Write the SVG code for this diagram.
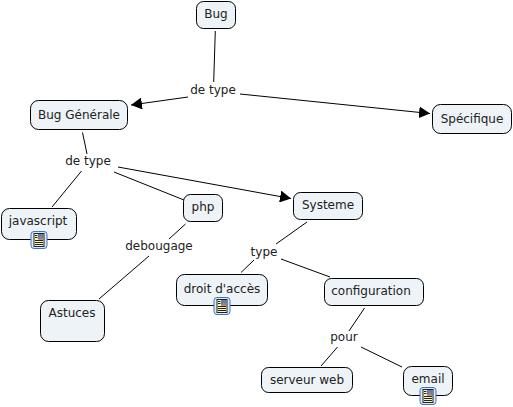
<svg xmlns="http://www.w3.org/2000/svg" width="513" height="407" viewBox="0 0 513 407">
<style>
.n{fill:#edf3f6;stroke:#000;stroke-width:1}
text{font-family:"DejaVu Sans",Verdana,sans-serif;font-size:12px;fill:#222;text-anchor:middle}
.c line{stroke:#000;stroke-width:1}
</style>
<defs>
<marker id="a" markerUnits="userSpaceOnUse" markerWidth="12" markerHeight="12" refX="11" refY="6" orient="auto"><path d="M0 0L11 6L0 12Z" fill="#000"/></marker>
<g id="ic">
<rect x="0.5" y="0.5" width="16" height="17" rx="3" fill="#dbe8f8" stroke="#3f73c4"/>
<rect x="3.500" y="2.500" width="10" height="13" fill="#fbf6c0" stroke="#222" stroke-width="1"/>
<rect x="7.500" y="3" width="5.500" height="5.500" fill="#5a7fa8"/>
<path d="M8 8.500l2.500-4 2.500 4z" fill="#b77"/>
<path d="M4.500 4.500H7M4.500 6.500H7M4.500 9.500H12.500M4.500 11.500H12.500M4.500 13.500H12.500" stroke="#222" stroke-width="1" fill="none"/>
</g>
</defs>
<g id="connectors" class="c">
<line x1="215.300" y1="31" x2="213.700" y2="82"/>
<line x1="188" y1="97" x2="131" y2="105" marker-end="url(#a)"/>
<line x1="240" y1="94" x2="430" y2="113.500" marker-end="url(#a)"/>
<line x1="82.500" y1="132.500" x2="87" y2="154"/>
<line x1="81.500" y1="171" x2="52" y2="207"/>
<line x1="114" y1="172" x2="184" y2="200"/>
<line x1="118" y1="167" x2="291" y2="198.500" marker-end="url(#a)"/>
<line x1="185.500" y1="224" x2="169" y2="239"/>
<line x1="149" y1="256" x2="99" y2="299"/>
<line x1="307" y1="222" x2="276" y2="244"/>
<line x1="254" y1="260" x2="241" y2="272.500"/>
<line x1="281" y1="259" x2="330" y2="277"/>
<line x1="364.500" y1="308" x2="349" y2="331"/>
<line x1="337.500" y1="347" x2="321" y2="366"/>
<line x1="361" y1="347" x2="402" y2="367"/>
</g>
<g id="labels">
<text x="213" y="94">de type</text>
<text x="88" y="165">de type</text>
<text x="159" y="250">debougage</text>
<text x="264" y="256">type</text>
<text x="344" y="341">pour</text>
</g>
<g id="bug"><rect class="n" x="196.500" y="1.500" width="39" height="27" rx="7"/><text x="216" y="18">Bug</text></g>
<g id="bug-generale"><rect class="n" x="30.500" y="100.500" width="97" height="29" rx="8"/><text x="79" y="119">Bug Générale</text></g>
<g id="specifique"><rect class="n" x="432.500" y="104.500" width="79" height="29" rx="8"/><text x="472" y="123">Spécifique</text></g>
<g id="systeme"><rect class="n" x="293.500" y="192.500" width="69" height="27" rx="7"/><text x="328" y="209">Systeme</text></g>
<g id="php"><rect class="n" x="183.500" y="194.500" width="39" height="27" rx="7"/><text x="203" y="211">php</text></g>
<g id="javascript"><rect class="n" x="1.500" y="208.500" width="75" height="31" rx="8"/><text x="38" y="225">javascript</text><use href="#ic" x="30.500" y="231"/></g>
<g id="astuces"><rect class="n" x="40.500" y="300.500" width="64" height="41" rx="8"/><text x="72" y="317">Astuces</text></g>
<g id="droit"><rect class="n" x="176.500" y="274.500" width="91" height="31" rx="8"/><text x="222" y="293">droit d'accès</text><use href="#ic" x="213.500" y="297"/></g>
<g id="configuration"><rect class="n" x="324.500" y="278.500" width="99" height="27" rx="7"/><text x="371" y="295">configuration</text></g>
<g id="serveur-web"><rect class="n" x="261.500" y="367.500" width="91" height="25" rx="7"/><text x="307" y="384">serveur web</text></g>
<g id="email"><rect class="n" x="403.500" y="366.500" width="49" height="29" rx="8"/><text x="428" y="383">email</text><use href="#ic" x="419.500" y="387"/></g>
</svg>
